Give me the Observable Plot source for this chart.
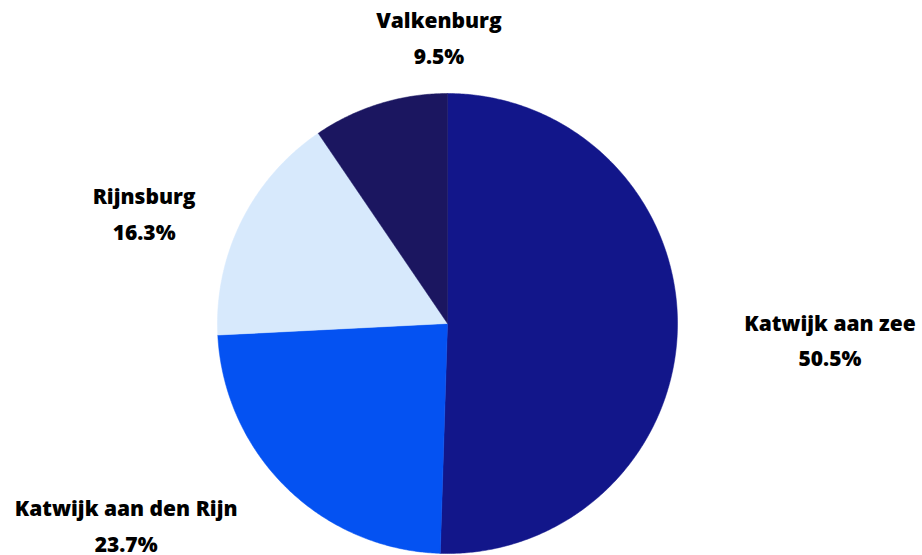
<!DOCTYPE html>
<html>
<head>
<meta charset="utf-8">
<script src="https://cdn.jsdelivr.net/npm/d3@7"></script>
<script src="https://cdn.jsdelivr.net/npm/@observablehq/plot@0.6"></script>
<style>
  html, body { margin: 0; padding: 0; background: #fff; }
  #chart { width: 922px; height: 555px; }
</style>
</head>
<body>
<div id="chart"></div>
<script>
// ---- data ----
const names = ["Katwijk aan zee", "Katwijk aan den Rijn", "Rijnsburg", "Valkenburg"];
const shares = [50.5, 23.7, 16.3, 9.5];
const colors = ["#12168A", "#0452F2", "#D7E9FC", "#1B1660"];

// ---- layout (pixels) ----
const W = 922, H = 555, CX = 447, CY = 323, R = 230;
const labelR = 1.25;                 // label base radius in pie radii
const nudgeX = [95, -120, -46, 76];  // label fine tuning (px)
const nudgeY = [9, -6, 15, -14];
const FS = 21;

// ---- geometry from data ----
const total = d3.sum(shares);
let acc = 0;
const slices = shares.map((v, i) => {
  const a0 = acc / total * 2 * Math.PI;
  acc += v;
  const a1 = acc / total * 2 * Math.PI;
  return {name: names[i], value: v, a0, a1, mid: (a0 + a1) / 2, i};
});

const pts = [];
for (const s of slices) {
  pts.push({name: s.name, x: 0, y: 0});
  const n = Math.max(2, Math.ceil((s.a1 - s.a0) / (2 * Math.PI) * 720));
  for (let k = 0; k <= n; k++) {
    const a = s.a0 + (s.a1 - s.a0) * k / n;
    pts.push({name: s.name, x: Math.sin(a), y: Math.cos(a)});
  }
  pts.push({name: s.name, x: 0, y: 0});
}

const labels = slices.map(s => ({
  text: s.name + "\n" + s.value.toFixed(1) + "%",
  x: labelR * Math.sin(s.mid) + nudgeX[s.i] / R,
  y: labelR * Math.cos(s.mid) - nudgeY[s.i] / R
}));

const chart = Plot.plot({
  width: W,
  height: H,
  margin: 0,
  style: {background: "#fff", overflow: "visible"},
  x: {domain: [-CX / R, (W - CX) / R], axis: null},
  y: {domain: [-(H - CY) / R, CY / R], axis: null},
  color: {domain: names, range: colors},
  marks: [
    Plot.line(pts, {x: "x", y: "y", z: "name", fill: "name", stroke: "name", strokeWidth: 0.5, curve: "linear"}),
    Plot.text(labels, {
      x: "x", y: "y", text: "text",
      fontSize: FS, fontWeight: 800, fontFamily: "'Open Sans', sans-serif",
      fill: "#000", lineHeight: 35.5 / FS, lineAnchor: "middle", textAnchor: "middle"
    })
  ]
});
document.getElementById("chart").appendChild(chart);
</script>
</body>
</html>
